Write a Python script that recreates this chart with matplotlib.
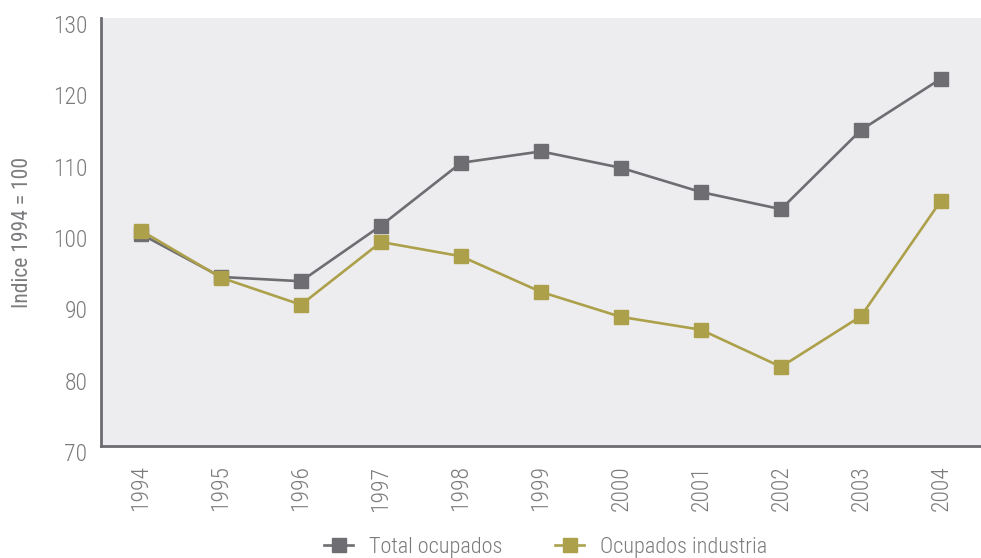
import numpy as np
import matplotlib.pyplot as plt
from matplotlib import font_manager
from matplotlib.transforms import ScaledTranslation

years = ['1994', '1995', '1996', '1997', '1998', '1999', '2000', '2001', '2002', '2003', '2004']
total_ocupados = [99.7, 93.7, 93.1, 100.9, 109.7, 111.3, 109.0, 105.6, 103.2, 114.3, 121.5]
ocupados_industria = [100.2, 93.6, 89.8, 98.6, 96.6, 91.6, 88.1, 86.3, 81.1, 88.2, 104.4]

# narrowest family we can find
names = {f.name for f in font_manager.fontManager.ttflist}
candidates = ['Roboto Condensed', 'Liberation Sans Narrow', 'Noto Sans Condensed',
              'Open Sans Condensed', 'Roboto', 'Liberation Sans']
family = next(c for c in candidates if c in names)
plt.rcParams['font.family'] = [family, 'DejaVu Sans']
plt.rcParams['font.weight'] = 'light'

gray = '#6e6d72'
olive = '#aca04a'
txt = '#7b7b7e'

fig = plt.figure(figsize=(9.81, 5.58), dpi=100)
ax = fig.add_axes([0.103, 0.2007, 0.897, 0.767])
ax.set_facecolor('#ededef')

x = np.arange(len(years))
ax.plot(x, total_ocupados, color=gray, lw=1.9, marker='s', ms=9.5,
        label='Total ocupados')
ax.plot(x, ocupados_industria, color=olive, lw=1.9, marker='s', ms=9.5,
        label='Ocupados industria')

ax.set_xlim(-0.5, len(years) - 0.5)
ax.set_ylim(70, 130)
ax.set_yticks(range(70, 131, 10))
ax.set_xticks(x)
ax.set_xticklabels(years, rotation=90)
ax.tick_params(length=0, labelsize=17, colors=txt)
ax.tick_params(axis='x', pad=14)
ax.tick_params(axis='y', pad=10)
shift = ScaledTranslation(0, -0.06, fig.dpi_scale_trans)
for lab in ax.get_yticklabels():
    lab.set_transform(lab.get_transform() + shift)

for s in ['top', 'right']:
    ax.spines[s].set_visible(False)
for s in ['left', 'bottom']:
    ax.spines[s].set_color(gray)
    ax.spines[s].set_linewidth(2)

ax.set_ylabel('Indice 1994 = 100', fontsize=15.5, color=txt)
ax.yaxis.set_label_coords(-0.077, 0.5)

fig.legend(loc='lower center', bbox_to_anchor=(0.556, -0.035), ncol=2, frameon=False,
           fontsize=16, labelcolor=txt, handlelength=1.3, handletextpad=0.7,
           columnspacing=2.4)

fig.savefig('out.png')
